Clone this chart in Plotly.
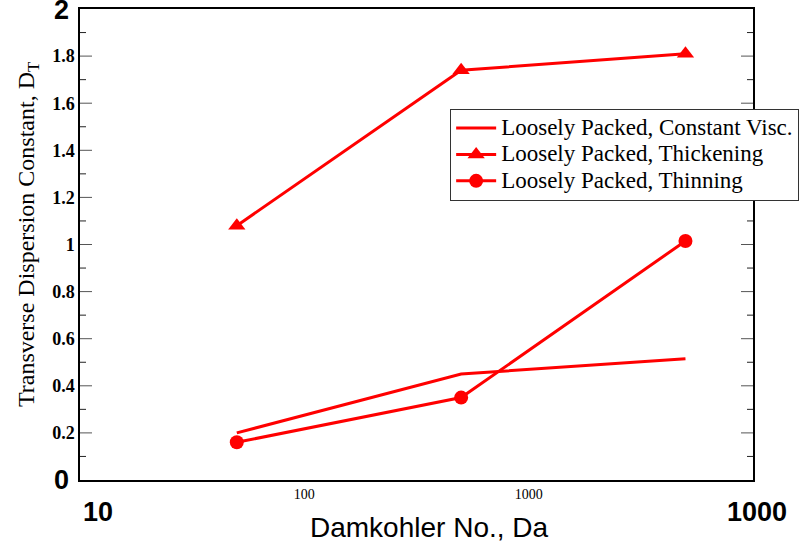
import math
import plotly.graph_objects as go

# Damkohler numbers and transverse dispersion constants
da = [50, 500, 5000]
dt_constant = [0.20, 0.45, 0.515]
dt_thickening = [1.08, 1.74, 1.81]
dt_thinning = [0.16, 0.35, 1.015]

series_names = [
    "Loosely Packed, Constant Visc.",
    "Loosely Packed, Thickening",
    "Loosely Packed, Thinning",
]

# tick labels
x_tick_vals = [100, 1000]
x_tick_text = ["100", "1000"]
x_end_vals = [10, 10000]
x_end_text = ["10", "1000"]
y_tick_vals = [0.2, 0.4, 0.6, 0.8, 1.0, 1.2, 1.4, 1.6, 1.8]
y_tick_text = ["0.2", "0.4", "0.6", "0.8", "1", "1.2", "1.4", "1.6", "1.8"]
y_end_vals = [0, 2]
y_end_text = ["0", "2"]

RED = "#ff0000"
SERIF = "Liberation Serif"
SANS = "Liberation Sans"

X_RANGE = [1, 4]
Y_RANGE = [0, 2]

fig = go.Figure()
fig.add_trace(go.Scatter(
    x=da, y=dt_constant, mode="lines",
    name=f'<span style="font-size:23px">{series_names[0]}</span>',
    line=dict(color=RED, width=3),
))
fig.add_trace(go.Scatter(
    x=da, y=dt_thickening, mode="lines+markers",
    name=f'<span style="font-size:23px">{series_names[1]}</span>',
    line=dict(color=RED, width=3),
    marker=dict(symbol="triangle-up", size=15, color=RED),
))
fig.add_trace(go.Scatter(
    x=da, y=dt_thinning, mode="lines+markers",
    name=f'<span style="font-size:23px">{series_names[2]}</span>',
    line=dict(color=RED, width=3),
    marker=dict(symbol="circle", size=14, color=RED),
))

axis_common = dict(
    showline=True, linecolor="black", linewidth=1.5, mirror=True,
    ticks="", showgrid=False, zeroline=False,
)
fig.update_layout(
    xaxis=dict(
        type="log", range=X_RANGE,
        tickmode="array", tickvals=x_tick_vals, ticktext=x_tick_text,
        tickfont=dict(family=SERIF, size=14, color="black"),
        **axis_common,
    ),
    yaxis=dict(
        range=Y_RANGE,
        tickmode="array", tickvals=y_tick_vals, ticktext=y_tick_text,
        tickfont=dict(family=SERIF, size=18, color="black", weight="bold"),
        **axis_common,
    ),
)

# inward tick marks on all four sides of the frame
x_minor = [m * 10 ** e for e in (1, 2, 3) for m in range(2, 10)]
y_minor = [round(0.1 * k, 1) for k in range(1, 20, 2)]
MAJOR_LEN, MINOR_LEN = 12, 6
shapes = []


def x_tick(v, length, color):
    lx = math.log10(v)
    for anchor, sign in ((0, 1), (1, -1)):
        shapes.append(dict(
            type="line", xref="x", yref="paper", ysizemode="pixel",
            yanchor=anchor, x0=lx, x1=lx, y0=0, y1=sign * length,
            line=dict(color=color, width=1), layer="above",
        ))


def y_tick(v, length, color):
    for anchor, sign in ((0, 1), (1, -1)):
        shapes.append(dict(
            type="line", xref="paper", yref="y", xsizemode="pixel",
            xanchor=anchor, x0=0, x1=sign * length, y0=v, y1=v,
            line=dict(color=color, width=1), layer="above",
        ))


for v in x_tick_vals:
    x_tick(v, MAJOR_LEN, "#555")
for v in x_minor:
    x_tick(v, MINOR_LEN, "#222")
for v in y_tick_vals:
    y_tick(v, MAJOR_LEN, "#555")
for v in y_minor:
    y_tick(v, MINOR_LEN, "#222")

annotations = []
# large end labels on the y axis
for v, t in zip(y_end_vals, y_end_text):
    annotations.append(dict(
        x=0, xref="paper", xshift=-9, y=v, yref="y", yshift=-1 if v else 0,
        text=t, showarrow=False, xanchor="right", yanchor="middle",
        font=dict(family=SANS, size=27, color="black", weight="bold"),
    ))
# large end labels on the x axis (log axis: positions in log10 units)
for v, t, dx in zip(x_end_vals, x_end_text, (18, 4)):
    annotations.append(dict(
        x=math.log10(v), xref="x", xshift=dx, y=0, yref="paper", yshift=-32,
        text=t, showarrow=False, xanchor="center", yanchor="middle",
        font=dict(family=SANS, size=27, color="black", weight="bold"),
    ))
# axis titles
annotations.append(dict(
    x=0.5, xref="paper", xshift=13, y=0, yref="paper", yshift=-47,
    text="Damkohler No., Da", showarrow=False, xanchor="center", yanchor="middle",
    font=dict(family=SANS, size=28, color="black"),
))
annotations.append(dict(
    x=0, xref="paper", xshift=-52, y=0.52, yref="paper",
    text="Transverse Dispersion Constant, D<sub>T</sub>", showarrow=False,
    textangle=-90, xanchor="center", yanchor="middle",
    font=dict(family=SERIF, size=24, color="black"),
))

fig.update_layout(
    width=804, height=546,
    margin=dict(l=80, r=51, t=9, b=66, autoexpand=False),
    paper_bgcolor="white", plot_bgcolor="white",
    showlegend=True,
    legend=dict(
        x=0.55, y=0.788, xanchor="left", yanchor="top",
        bgcolor="white", bordercolor="#333", borderwidth=1,
        font=dict(family=SERIF, size=18, color="black"),
        itemwidth=40, tracegroupgap=0,
    ),
    shapes=shapes,
    annotations=annotations,
)

fig.write_html("out.html")
